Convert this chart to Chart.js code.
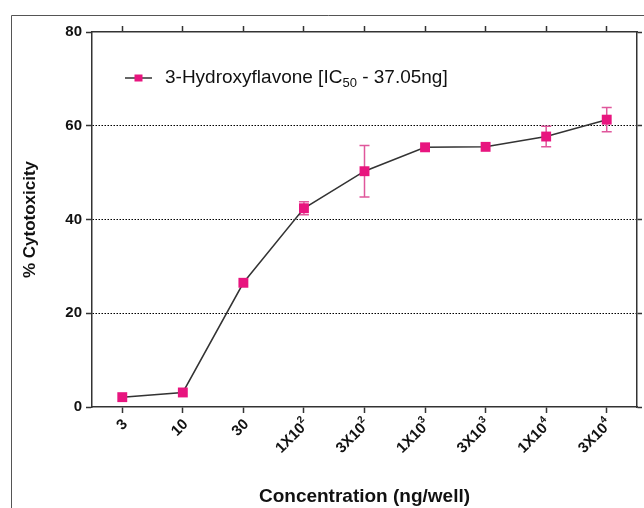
<!DOCTYPE html>
<html lang="en">
<head>
    <meta charset="UTF-8">
    <title>cytotoxicity</title>
    <script src="https://cdn.jsdelivr.net/npm/chart.js@4.4.1/dist/chart.umd.min.js"></script>
    <style>
        body{margin:0; background:#fff;}
        #wrap{width:644px; height:508px;}
    </style>
</head>
<body>
    <div id="wrap">
        <canvas id="lineChart" width="644" height="508"></canvas>
    </div>

    <script>
        const categories = ['3', '10', '30', '1X10²', '3X10²', '1X10³', '3X10³', '1X10⁴', '3X10⁴']
        const cytotoxicity = [2.1, 3.1, 26.5, 42.4, 50.3, 55.4, 55.5, 57.7, 61.3]
        const errors = [0, 0, 0, 1.4, 5.5, 0, 0, 2.2, 2.6]
        const yTicks = [0, 20, 40, 60, 80]

        const FONT = 'Arial, "Liberation Sans", sans-serif'
        const PINK = '#e8157f'
        const AXIS = '#333'
        const SUP = {'²':'2', '³':'3', '⁴':'4'}

        // 바깥 테두리
        const framePlugin = {
            id:'frame',
            beforeDraw:function(chart){
                const ctx = chart.ctx
                ctx.save()
                ctx.strokeStyle = '#555'
                ctx.lineWidth = 1
                ctx.beginPath()
                ctx.moveTo(11.5, 520)
                ctx.lineTo(11.5, 15.5)
                ctx.lineTo(660, 15.5)
                ctx.stroke()
                ctx.restore()
            }
        }

        // 오차 막대
        const errorBarPlugin = {
            id:'errorBars',
            beforeDatasetsDraw:function(chart){
                const ctx = chart.ctx
                const xs = chart.scales.x
                const ys = chart.scales.y
                ctx.save()
                ctx.strokeStyle = '#e0579c'
                ctx.lineWidth = 1.5
                errors.forEach(function(e, i){
                    if(!e) return
                    const x = xs.getPixelForValue(i)
                    const top = ys.getPixelForValue(cytotoxicity[i] + e)
                    const bot = ys.getPixelForValue(cytotoxicity[i] - e)
                    ctx.beginPath()
                    ctx.moveTo(x, top); ctx.lineTo(x, bot)
                    ctx.moveTo(x - 5, top); ctx.lineTo(x + 5, top)
                    ctx.moveTo(x - 5, bot); ctx.lineTo(x + 5, bot)
                    ctx.stroke()
                })
                ctx.restore()
            }
        }

        // x축 라벨 (위첨자 포함, 45도 회전)
        const xLabelPlugin = {
            id:'xLabels',
            afterDraw:function(chart){
                const ctx = chart.ctx
                const xs = chart.scales.x
                ctx.save()
                ctx.fillStyle = '#111'
                ctx.textBaseline = 'middle'
                ctx.textAlign = 'right'
                xs.getLabels().forEach(function(label, i){
                    const last = label.charAt(label.length - 1)
                    const sup = SUP[last]
                    const base = sup ? label.slice(0, -1) : label
                    const x = xs.getPixelForTick(i) + 3
                    const y = xs.top + 15
                    ctx.save()
                    ctx.translate(x, y)
                    ctx.rotate(-Math.PI / 4)
                    let end = 0
                    if(sup){
                        ctx.font = 'bold 10px ' + FONT
                        ctx.fillText(sup, 0, -6)
                        end = -ctx.measureText(sup).width
                    }
                    ctx.font = 'bold 15px ' + FONT
                    ctx.fillText(base, end, 0)
                    ctx.restore()
                })
                ctx.restore()
            }
        }

        // 범례 (IC50 아래첨자)
        const legendPlugin = {
            id:'customLegend',
            afterDraw:function(chart){
                const ctx = chart.ctx
                const y = 78
                ctx.save()
                ctx.strokeStyle = AXIS
                ctx.lineWidth = 1.5
                ctx.beginPath()
                ctx.moveTo(125, y); ctx.lineTo(152, y)
                ctx.stroke()
                ctx.fillStyle = PINK
                ctx.fillRect(134.5, y - 3.5, 8, 7)

                ctx.fillStyle = '#111'
                ctx.textBaseline = 'middle'
                ctx.textAlign = 'left'
                let x = 165
                ctx.font = '19px ' + FONT
                const part1 = '3-Hydroxyflavone [IC'
                ctx.fillText(part1, x, y)
                x += ctx.measureText(part1).width
                ctx.font = '13px ' + FONT
                ctx.fillText('50', x, y + 5)
                x += ctx.measureText('50').width
                ctx.font = '19px ' + FONT
                ctx.fillText(' - 37.05ng]', x, y)
                ctx.restore()
            }
        }

        const config = {
            type:'line',
            data:{
                labels:categories,
                datasets:[
                    {
                        label:'3-Hydroxyflavone',
                        data:cytotoxicity,
                        borderColor:AXIS,
                        borderWidth:1.5,
                        tension:0,
                        pointStyle:'rect',
                        pointRadius:7,
                        pointBorderWidth:0,
                        pointBackgroundColor:PINK,
                        pointBorderColor:PINK
                    }
                ]
            },
            options:{
                responsive:false,
                animation:false,
                layout:{padding:0},
                plugins:{
                    legend:{display:false},
                    tooltip:{enabled:false}
                },
                scales:{
                    x:{
                        type:'category',
                        position:'bottom',
                        offset:true,
                        grid:{drawOnChartArea:false, drawTicks:true, tickLength:6, tickColor:AXIS, tickWidth:1.5},
                        border:{color:AXIS, width:1.5},
                        ticks:{display:false, autoSkip:false},
                        title:{
                            display:true,
                            text:'Concentration (ng/well)',
                            font:{family:FONT, size:19, weight:'bold'},
                            color:'#111',
                            padding:{top:3.5, bottom:0}
                        },
                        afterFit:function(s){ s.height = 101 }
                    },
                    x2:{
                        type:'category',
                        labels:categories,
                        position:'top',
                        offset:true,
                        grid:{drawOnChartArea:false, drawTicks:true, tickLength:6, tickColor:AXIS, tickWidth:1.5},
                        border:{color:AXIS, width:1.5},
                        ticks:{display:false},
                        afterFit:function(s){ s.height = 32 }
                    },
                    y:{
                        position:'left',
                        min:yTicks[0],
                        max:yTicks[yTicks.length - 1],
                        afterBuildTicks:function(s){ s.ticks = yTicks.map(function(v){ return {value:v} }) },
                        grid:{
                            color:function(c){ return (c.tick && c.tick.value > 0 && c.tick.value < 80) ? '#000' : 'rgba(0,0,0,0)' },
                            lineWidth:1,
                            tickColor:AXIS,
                            tickWidth:1.5,
                            tickLength:6
                        },
                        border:{color:AXIS, width:1.5, dash:[1.5,1.5]},
                        ticks:{
                            font:{family:FONT, size:15, weight:'bold'},
                            color:'#111',
                            padding:4
                        },
                        title:{
                            display:true,
                            text:'% Cytotoxicity',
                            font:{family:FONT, size:17, weight:'bold'},
                            color:'#111',
                            padding:{top:20, bottom:0}
                        },
                        afterFit:function(s){ s.width = 92 }
                    },
                    y2:{
                        position:'right',
                        min:yTicks[0],
                        max:yTicks[yTicks.length - 1],
                        afterBuildTicks:function(s){ s.ticks = yTicks.map(function(v){ return {value:v} }) },
                        grid:{drawOnChartArea:false, tickColor:AXIS, tickWidth:1.5, tickLength:5},
                        border:{color:AXIS, width:1.5},
                        ticks:{display:false},
                        afterFit:function(s){ s.width = 5 }
                    }
                }
            },
            plugins:[framePlugin, errorBarPlugin, xLabelPlugin, legendPlugin]
        }

        const ctx = document.querySelector('#lineChart').getContext('2d')
        const lineChart = new Chart(ctx, config)
    </script>
</body>
</html>
